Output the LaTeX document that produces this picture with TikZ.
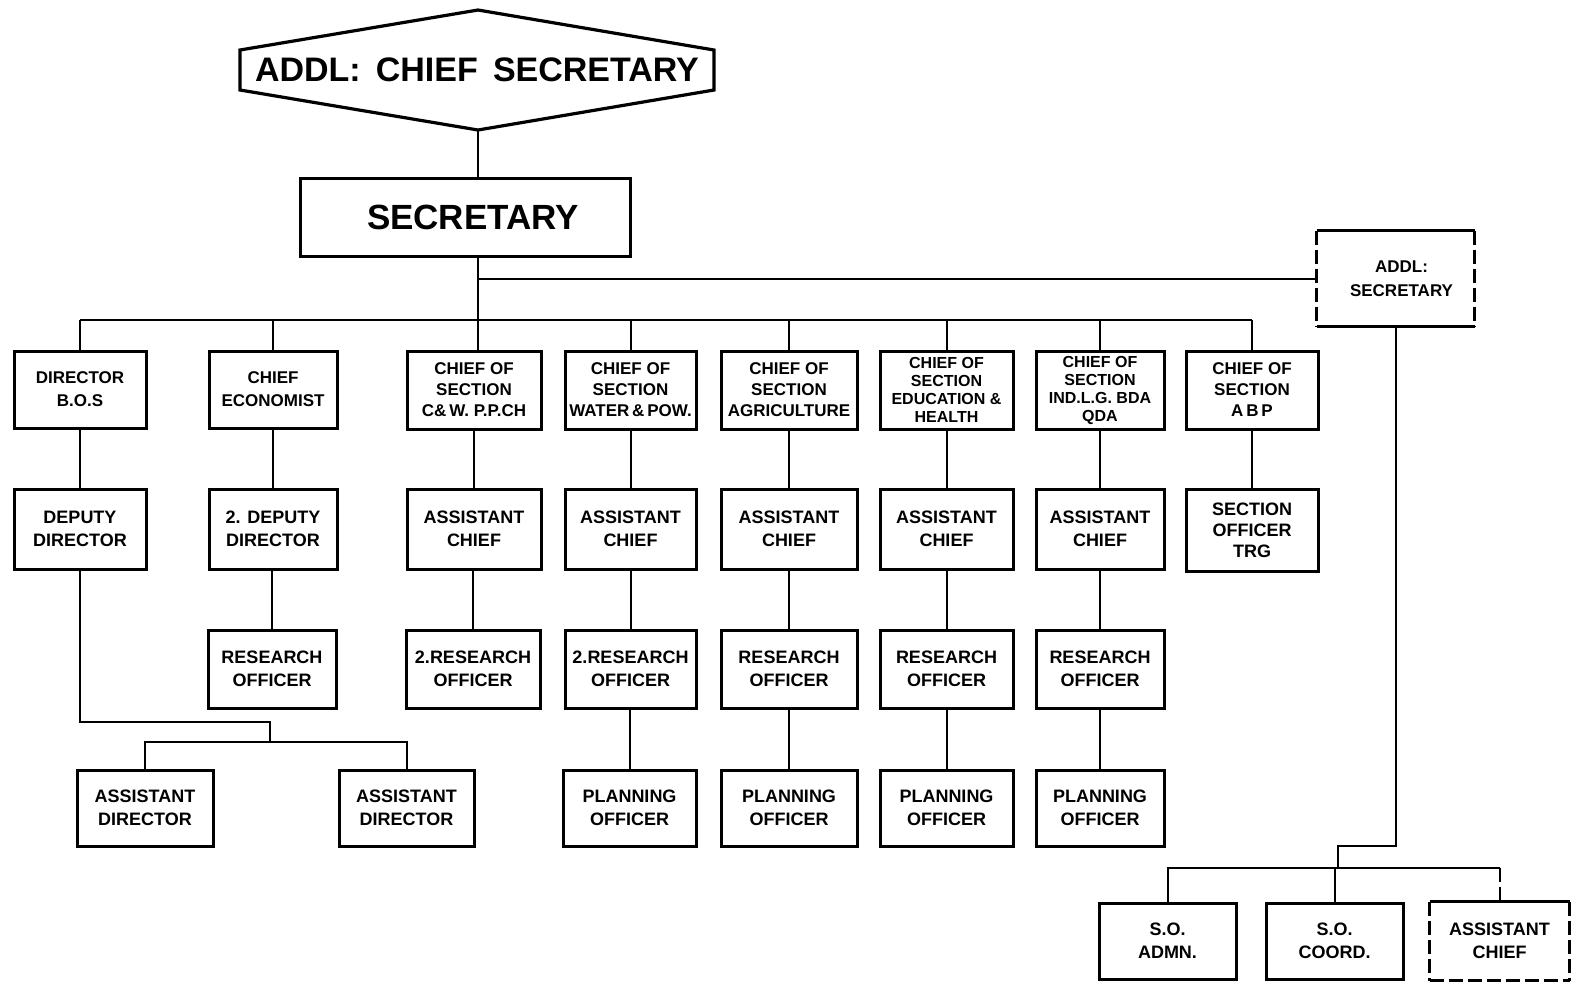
\documentclass[tikz,border=0pt]{standalone}
\usepackage{fontspec}
\setmainfont{Liberation Sans}
\begin{document}
\begin{tikzpicture}[x=0.5pt,y=-0.5pt,
  orgbox/.style={draw, line width=1.5pt, align=center, inner sep=1pt,
    font=\bfseries\fontsize{9}{11.5}\selectfont},
  headbox/.style={orgbox, font=\bfseries\fontsize{8.5}{10.5}\selectfont},
  tightbox/.style={orgbox, font=\bfseries\fontsize{8}{9}\selectfont},
  openbox/.style={draw=none},
  edge/.style={line width=1.5pt},
  dashedge/.style={line width=1.5pt, dash pattern=on 7pt off 2.5pt},
  link/.style={line width=1pt}]
\newcommand{\post}[7][]{%
  \node[orgbox,#1,minimum width={(#5-#3)*0.5pt},minimum height={(#6-#4)*0.5pt}]
    (#2) at ({(#3+#5)/2},{(#4+#6)/2}) {#7};}
% box with solid top and bottom and broken sides
\newcommand{\halfdashed}[1]{%
  \draw[edge] (#1.north west) -- (#1.north east);
  \draw[edge] (#1.south west) -- (#1.south east);
  \draw[dashedge] (#1.north west) -- (#1.south west);
  \draw[dashedge] (#1.north east) -- (#1.south east);}
\useasboundingbox (0,0) rectangle (1571,982);
\clip (0,0) rectangle (1571,982);

% top of the chart
\draw[line width=1.6pt] (240,50) -- (478,10) -- (714,50) -- (714,90) -- (478,130) -- (240,90) -- cycle;
\node[font=\bfseries\fontsize{17}{20}\selectfont] (acs) at (477,70) {ADDL:\, CHIEF\, SECRETARY};
\coordinate (hexb) at (478,130);
\post[font=\bfseries\fontsize{17.5}{20}\selectfont]{sec}{300}{178}{630}{256}{\hspace*{8pt}SECRETARY}
\post[openbox,font=\bfseries\fontsize{8.5}{12}\selectfont]{asec}{1318}{232}{1473}{325}{\hspace*{6pt}ADDL:\\\hspace*{6pt}SECRETARY}
\halfdashed{asec}

% first row
\post[headbox]{dir}{14}{351}{146}{428}{DIRECTOR\\[1pt]B.O.S}
\post[headbox]{ce}{209}{351}{337}{428}{CHIEF\\[1pt]ECONOMIST}
\post[headbox]{cw}{407}{351}{541}{429}{CHIEF OF\\SECTION\\C\&\,W. P.P.CH}
\post[headbox]{wp}{565}{351}{696}{429}{CHIEF OF\\SECTION\\WATER\,\&\,POW.}
\post[headbox]{ag}{721}{351}{857}{429}{CHIEF OF\\SECTION\\AGRICULTURE}
\post[tightbox]{eh}{880}{351}{1013}{429}{CHIEF OF\\SECTION\\EDUCATION \&\\HEALTH}
\post[tightbox]{ind}{1036}{351}{1164}{429}{CHIEF OF\\SECTION\\IND.L.G. BDA\\QDA}
\post[headbox]{abp}{1186}{351}{1318}{429}{CHIEF OF\\SECTION\\A\,B\,P}

% second row
\post{dd}{14}{489}{146}{569}{DEPUTY\\DIRECTOR}
\post{dd2}{209}{489}{337}{569}{2. DEPUTY\\DIRECTOR}
\post{ac1}{407}{489}{541}{569}{ASSISTANT\\CHIEF}
\post{ac2}{565}{489}{696}{569}{ASSISTANT\\CHIEF}
\post{ac3}{721}{489}{857}{569}{ASSISTANT\\CHIEF}
\post{ac4}{880}{489}{1013}{569}{ASSISTANT\\CHIEF}
\post{ac5}{1036}{489}{1164}{569}{ASSISTANT\\CHIEF}
\post[font=\bfseries\fontsize{9}{10.5}\selectfont]{sot}{1186}{489}{1318}{571}{SECTION\\OFFICER\\TRG}

% third row
\post{ro1}{208}{630}{336}{708}{RESEARCH\\OFFICER}
\post{ro2}{406}{630}{540}{708}{2.RESEARCH\\OFFICER}
\post{ro3}{565}{630}{696}{708}{2.RESEARCH\\OFFICER}
\post{ro4}{721}{630}{857}{708}{RESEARCH\\OFFICER}
\post{ro5}{880}{630}{1013}{708}{RESEARCH\\OFFICER}
\post{ro6}{1036}{630}{1164}{708}{RESEARCH\\OFFICER}

% fourth row
\post{ad1}{77}{770}{213}{846}{ASSISTANT\\DIRECTOR}
\post{ad2}{339}{770}{474}{846}{ASSISTANT\\DIRECTOR}
\post{po1}{563}{770}{696}{846}{PLANNING\\OFFICER}
\post{po2}{721}{770}{857}{846}{PLANNING\\OFFICER}
\post{po3}{880}{770}{1013}{846}{PLANNING\\OFFICER}
\post{po4}{1036}{770}{1164}{846}{PLANNING\\OFFICER}

% units under the additional secretary
\post{soa}{1099}{903}{1236}{979}{S.O.\\ADMN.}
\post{soc}{1266}{903}{1403}{979}{S.O.\\COORD.}
\post[openbox]{acx}{1431}{903}{1568}{979}{ASSISTANT\\CHIEF}
\draw[edge] (acx.north west) -- (acx.north east);
\draw[dashedge] (acx.north west) -- (acx.south west);
\draw[dashedge] (acx.north east) -- (acx.south east);
\draw[dashedge] (acx.south west) -- (acx.south east);

% connectors
\coordinate (bus) at (0,320);
\draw[link] (hexb) -- (hexb |- sec.north);
\draw[link] (hexb |- sec.south) -- (hexb |- bus);
\draw[link] (asec.west) -- (asec.west -| hexb);
\draw[link] (dir.north |- bus) -- (abp.north |- bus);
\foreach \n in {dir,ce,wp,ag,eh,ind,abp}
  \draw[link] (\n.north) -- (\n.north |- bus);
\draw[link] (hexb |- cw.north) -- (hexb |- bus);

\foreach \a/\b in {dir/dd,ce/dd2,cw/ac1,wp/ac2,ag/ac3,eh/ac4,ind/ac5,abp/sot,
                   dd2/ro1,ac1/ro2,ac2/ro3,ac3/ro4,ac4/ro5,ac5/ro6,
                   ro3/po1,ro4/po2,ro5/po3,ro6/po4}
  \draw[link] (\a.south) -- (\a.south -| \b.north) -- (\b.north);

% assistant directors
\coordinate (ddturn) at (270,722);
\coordinate (adbus) at (0,742);
\draw[link] (dd.south) |- (ddturn) -- (ddturn |- adbus);
\draw[link] (ad1.north) -- (ad1.north |- adbus) -- (ad2.north |- adbus) -- (ad2.north);

% section officers
\coordinate (asturn) at (1338,846);
\coordinate (sobus) at (0,868);
\draw[link] (asec.south) -- (asec.south |- asturn) -- (asturn) -- (asturn |- sobus);
\draw[link] (soa.north) -- (soa.north |- sobus) -- (acx.north |- sobus);
\draw[link] (soc.north) -- (soc.north |- sobus);
\draw[link,dash pattern=on 7pt off 2.5pt] (acx.north |- sobus) -- (acx.north);
\end{tikzpicture}
\end{document}
